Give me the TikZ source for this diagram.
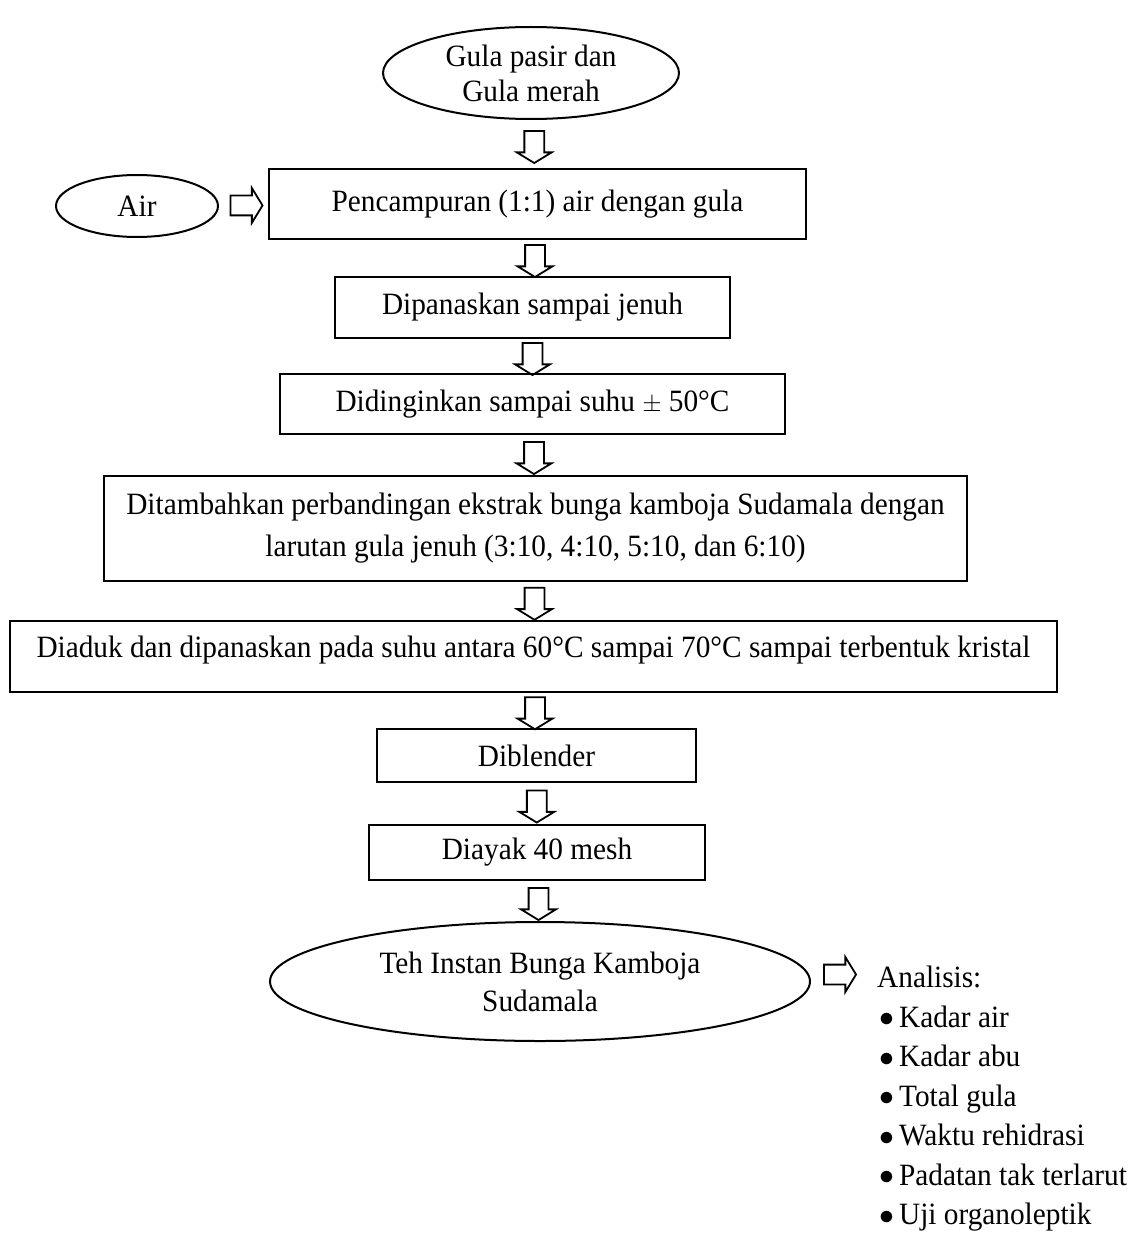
\documentclass[tikz,border=0pt]{standalone}
\usepackage{fontspec}
\setmainfont{Liberation Serif}[FakeStretch=0.945]
\usepackage{tikz}
\usetikzlibrary{shapes.geometric,shapes.arrows}
\tikzset{every node/.style={font=\fontsize{31}{35}\selectfont},
	procbox/.style={draw,rectangle,line width=2pt,inner sep=0pt,align=center},
	termin/.style={draw,ellipse,line width=2pt,inner sep=0pt,align=center},
	blockarrow/.style={draw,single arrow,line width=1.8pt,inner xsep=0pt,inner ysep=9pt,
		minimum height=32pt,minimum width=33pt,single arrow head extend=7.5pt,
		single arrow tip angle=117},
	downarrow/.style={blockarrow,rotate=-90}}
\newcommand{\itembul}{\hspace{2pt}\raisebox{0.02em}{\scalebox{1.2}{$\bullet$}}\hspace{5pt}}

\begin{document}
\begin{tikzpicture}[x=1pt,y=-1pt]
\useasboundingbox (0,0) rectangle (1137,1236);
\node [termin,minimum width=296pt,minimum height=92pt] (gula) at (531,73) {Gula pasir dan\\Gula merah};
\node [termin,minimum width=162pt,minimum height=62pt] (air) at (137,206) {Air};
\node [procbox,minimum width=537pt,minimum height=70pt] (mix) at (537.5,204) {Pencampuran (1:1) air dengan gula};
\node [procbox,minimum width=395pt,minimum height=61pt] (heat) at (532.5,307.5) {Dipanaskan sampai jenuh};
\node [procbox,minimum width=505pt,minimum height=60pt] (cool) at (532.5,404) {Didinginkan sampai suhu $\pm$ 50°C};
\node [procbox,minimum width=863pt,minimum height=105pt] (add) at (535.5,528.5)
  {Ditambahkan perbandingan ekstrak bunga kamboja Sudamala dengan\\[7pt]larutan gula jenuh (3:10, 4:10, 5:10, dan 6:10)};
\node [procbox,minimum width=1047pt,minimum height=71pt,text depth=19pt] (stir) at (533.5,656)
  {Diaduk dan dipanaskan pada suhu antara 60°C sampai 70°C sampai terbentuk kristal};
\node [procbox,minimum width=319pt,minimum height=53pt] (blend) at (536.5,755.5) {Diblender};
\node [procbox,minimum width=336pt,minimum height=55pt] (sieve) at (537,852.5) {Diayak 40 mesh};
\node [termin,minimum width=540pt,minimum height=119pt] (tea) at (540,981.5) {Teh Instan Bunga Kamboja\\[3pt]Sudamala};
\node [anchor=north west,inner sep=0pt,align=left,font=\fontsize{31}{39.5}\selectfont] (uji) at (877,966)
  {Analisis:\\
   \itembul Kadar air\\
   \itembul Kadar abu\\
   \itembul Total gula\\
   \itembul Waktu rehidrasi\\
   \itembul Padatan tak terlarut\\
   \itembul Uji organoleptik};
% arrows between the steps
\path (gula.south) -- (mix.north) node [midway,downarrow] (a1) {};
\path (air) -- (mix) node [midway,blockarrow] (a0) {};
\path (mix.south) -- (heat.north) node [midway,downarrow] (a2) {};
\path (heat.south) -- (cool.north) node [midway,downarrow] (a3) {};
\path (cool.south) -- (add.north) node [midway,downarrow] (a4) {};
\path (add.south) -- (stir.north) node [midway,downarrow] (a5) {};
\path (stir.south) -- (blend.north) node [midway,downarrow] (a6) {};
\path (blend.south) -- (sieve.north) node [midway,downarrow] (a7) {};
\path (sieve.south) -- (tea.north) node [midway,downarrow] (a8) {};
\path (tea.east) -- (uji.west |- tea.east) node [midway,blockarrow,xshift=-7pt,yshift=7pt] (a9) {};
\end{tikzpicture}
\end{document}
